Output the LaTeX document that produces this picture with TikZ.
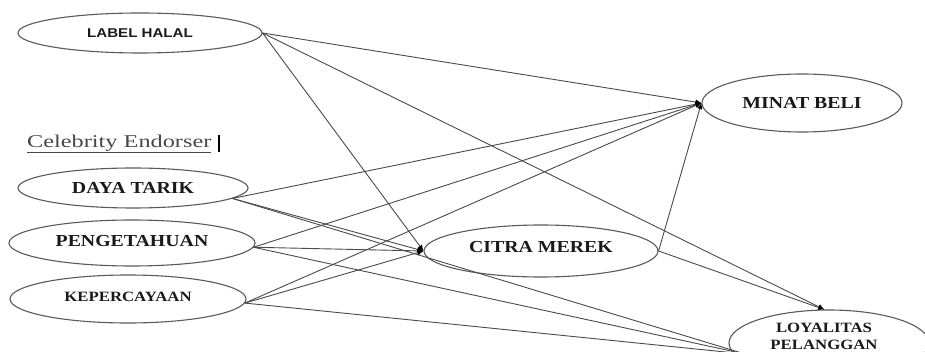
\documentclass[tikz,border=0pt]{standalone}
\usepackage{fontspec}
\setmainfont{Liberation Serif}
\newfontfamily\tbf[FakeStretch=1.18]{Liberation Serif}
\newfontfamily\sbf[FakeStretch=1.18]{Liberation Sans}
\newfontfamily\celeb[FakeStretch=1.35]{Liberation Serif}
\usetikzlibrary{shapes.geometric,arrows.meta}
\definecolor{edge}{HTML}{4A4A4A}
\definecolor{ring}{HTML}{5A5A5A}
\definecolor{ink}{HTML}{1A1A1A}
\tikzset{
  var/.style={ellipse, draw=ring, line width=1.1pt, fill=white, inner sep=0pt, text=ink, align=center},
  big/.style={font=\tbf\bfseries\fontsize{16.8}{19}\selectfont},
  small/.style={font=\tbf\bfseries\fontsize{14.2}{17}\selectfont},
  link/.style={draw=edge, line width=0.9pt, -{Latex[length=6pt,width=5.5pt,fill=black,color=black]}},
  plain/.style={draw=edge, line width=0.9pt}
}
\begin{document}
\begin{tikzpicture}[x=1pt,y=-1pt]
\useasboundingbox (0,0) rectangle (925,352);
\clip (0,0) rectangle (925,352);
\fill[white] (0,0) rectangle (925,352);
% variables
\node[var, minimum width=244pt, minimum height=40pt, font=\sbf\bfseries\fontsize{12.8}{15}\selectfont] (label) at (140,33) {LABEL HALAL};
\node[var, big, minimum width=230pt, minimum height=40pt] (daya) at (133,188) {DAYA TARIK};
\node[var, big, minimum width=246pt, minimum height=46pt] (peng) at (132,243) {\raisebox{5pt}{PENGETAHUAN}};
\node[var, small, minimum width=236pt, minimum height=48pt] (kep) at (128,299) {\raisebox{4pt}{KEPERCAYAAN}};
\node[var, big, minimum width=234pt, minimum height=52pt] (citra) at (541,251) {\raisebox{8pt}{CITRA MEREK}};
\node[var, big, minimum width=200pt, minimum height=58pt] (minat) at (802,103) {\raisebox{-4pt}{MINAT BELI}};
\node[var, minimum width=200pt, minimum height=66pt] (loy) at (829,343) {};
\node[small, text=ink, align=center, anchor=north, inner sep=0pt] (loytext) at (824,323) {LOYALITAS\\PELANGGAN};
\coordinate (loyS) at (745,354);
% heading
\node[font=\celeb\fontsize{18}{20}\selectfont, text=ink!80, anchor=west, inner sep=0pt] (celeb) at (27,144) {\underline{Celebrity Endorser}};
\node[anchor=west, inner sep=0pt] (bar) at (218,144) {\rule[-8pt]{1.8pt}{17pt}};
% connectors
\draw[link] (label.east) -- (minat.west);
\draw[link] (label.east) -- (citra.west);
\draw[link] (label.east) -- (loy.98);
\draw[link] (daya.-6.3) -- (minat.west);
\draw[link] (daya.-6.3) -- (citra.west);
\draw[plain] (daya.-6.3) -- (loyS);
\draw[link] (peng.-2) -- (minat.west);
\draw[link] (peng.-2) -- (citra.west);
\draw[plain] (peng.-2) -- (loyS);
\draw[link] (kep.-2) -- (minat.west);
\draw[link] (kep.-2) -- (citra.west);
\draw[plain] (kep.-2) -- (loyS);
\draw[link] (citra.east) -- (minat.west);
\draw[link] (citra.east) -- (loy.98);
\end{tikzpicture}
\end{document}
